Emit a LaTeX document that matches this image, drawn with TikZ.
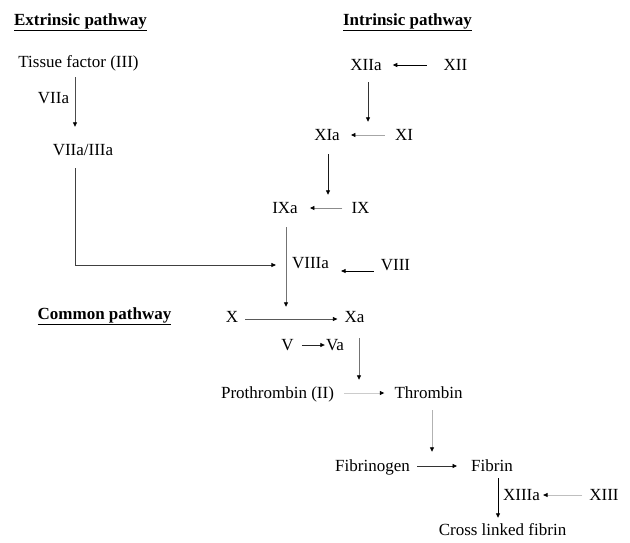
\documentclass[tikz,border=0pt]{standalone}
\usepackage{fontspec}
\setmainfont{Liberation Serif}
\usetikzlibrary{arrows.meta,calc}
\begin{document}
\begin{tikzpicture}[x=1pt,y=-1pt,
  lab/.style={inner sep=0pt,text height=12pt,text depth=4pt,font=\fontsize{17}{20}\selectfont},
  head/.style={inner sep=0pt,font=\fontsize{17}{20}\selectfont\bfseries},
  arr/.style={line width=0.8pt,draw=#1,-{Triangle[length=4.5pt,width=4pt,color=black]}},
  arr/.default=black]
\useasboundingbox[fill=white] (0,0) rectangle (630,542);
% headings
\node[head] (ext) at (80.5,22) {\underline{Extrinsic pathway}};
\node[head] (intr) at (407.5,22) {\underline{Intrinsic pathway}};
\node[head] (common) at (104.5,316) {\underline{Common pathway}};
% extrinsic
\node[lab] (tissue) at (78.5,63) {Tissue factor (III)};
\node[lab] (vIIa) at (53.5,99) {VIIa};
\node[lab] (vii) at (83,151) {VIIa/IIIa};
% intrinsic
\node[lab] (XIIa) at (366,66) {XIIa};
\node[lab] (XII) at (455.5,66) {XII};
\node[lab] (XIa) at (327,136) {XIa};
\node[lab] (XI) at (404,136) {XI};
\node[lab] (IXa) at (285,209) {IXa};
\node[lab] (IX) at (360.5,209) {IX};
\node[lab] (VIIIa) at (310.5,264) {VIIIa};
\node[lab] (VIII) at (395.5,266) {VIII};
% common
\node[lab] (X) at (232,318) {X};
\node[lab] (Xa) at (354.5,318) {Xa};
\node[lab] (V) at (287.5,346) {V};
\node[lab] (Va) at (335,346) {Va};
\node[lab] (pro) at (277.5,394) {Prothrombin (II)};
\node[lab] (thr) at (428.5,394) {Thrombin};
\node[lab] (fgn) at (372.5,467) {Fibrinogen};
\node[lab] (fib) at (492,467) {Fibrin};
\node[lab] (XIIIa) at (521.5,496) {XIIIa};
\node[lab] (XIII) at (604,496) {XIII};
\node[lab] (cross) at (502.5,531) {Cross linked fibrin};
% connectors
\draw[arr=black!70] ($(tissue.south)+(-3.5,6)$) -- ($(vii.north)+(-8,-16)$);
\draw[arr=black!75] ($(vii.south)+(-8,9)$) |- ($(VIIIa.west)+(-16,1)$);
\draw[arr=black] ($(XII.west)+(-17,-1)$) -- ($(XIIa.east)+(11,-1)$);
\draw[arr=black!80] ($(XIIa.south)+(2,8)$) -- ($(XIa.north)+(41,-6)$);
\draw[arr=black!35] ($(XI.west)+(-10,-1)$) -- ($(XIa.east)+(11,-1)$);
\draw[arr=black!90] ($(XIa.south)+(1,10)$) -- ($(IXa.north)+(43,-6)$);
\draw[arr=black!45] ($(IX.west)+(-9,-1)$) -- ($(IXa.east)+(12,-1)$);
\draw[arr=black!55] ($(IXa.south)+(1,10)$) -- ($(X.north)+(54,-3)$);
\draw[arr=black] ($(VIII.west)+(-7,5)$) -- ($(VIIIa.east)+(12,7)$);
\draw[arr=black!65] ($(X.east)+(7,1)$) -- ($(Xa.west)+(-7,1)$);
\draw[arr=black!55] ($(Xa.south)+(4.5,12)$) -- ($(pro.north)+(81.5,-6)$);
\draw[arr=black!85] ($(V.east)+(8,-1)$) -- ($(Va.west)+(-1,-1)$);
\draw[arr=black!20] ($(pro.east)+(10,-1)$) -- ($(thr.west)+(-10,-1)$);
\draw[arr=black!30] ($(thr.south)+(3.5,8)$) -- ($(fib.north)+(-60,-7)$);
\draw[arr=black!80] ($(fgn.east)+(7,-1)$) -- ($(fib.west)+(-14,-1)$);
\draw[arr=black] ($(fib.south)+(6,3)$) -- ($(cross.north)+(-4.5,-5)$);
\draw[arr=black!25] ($(XIII.west)+(-7,-1)$) -- ($(XIIIa.east)+(3,-1)$);
\end{tikzpicture}
\end{document}
